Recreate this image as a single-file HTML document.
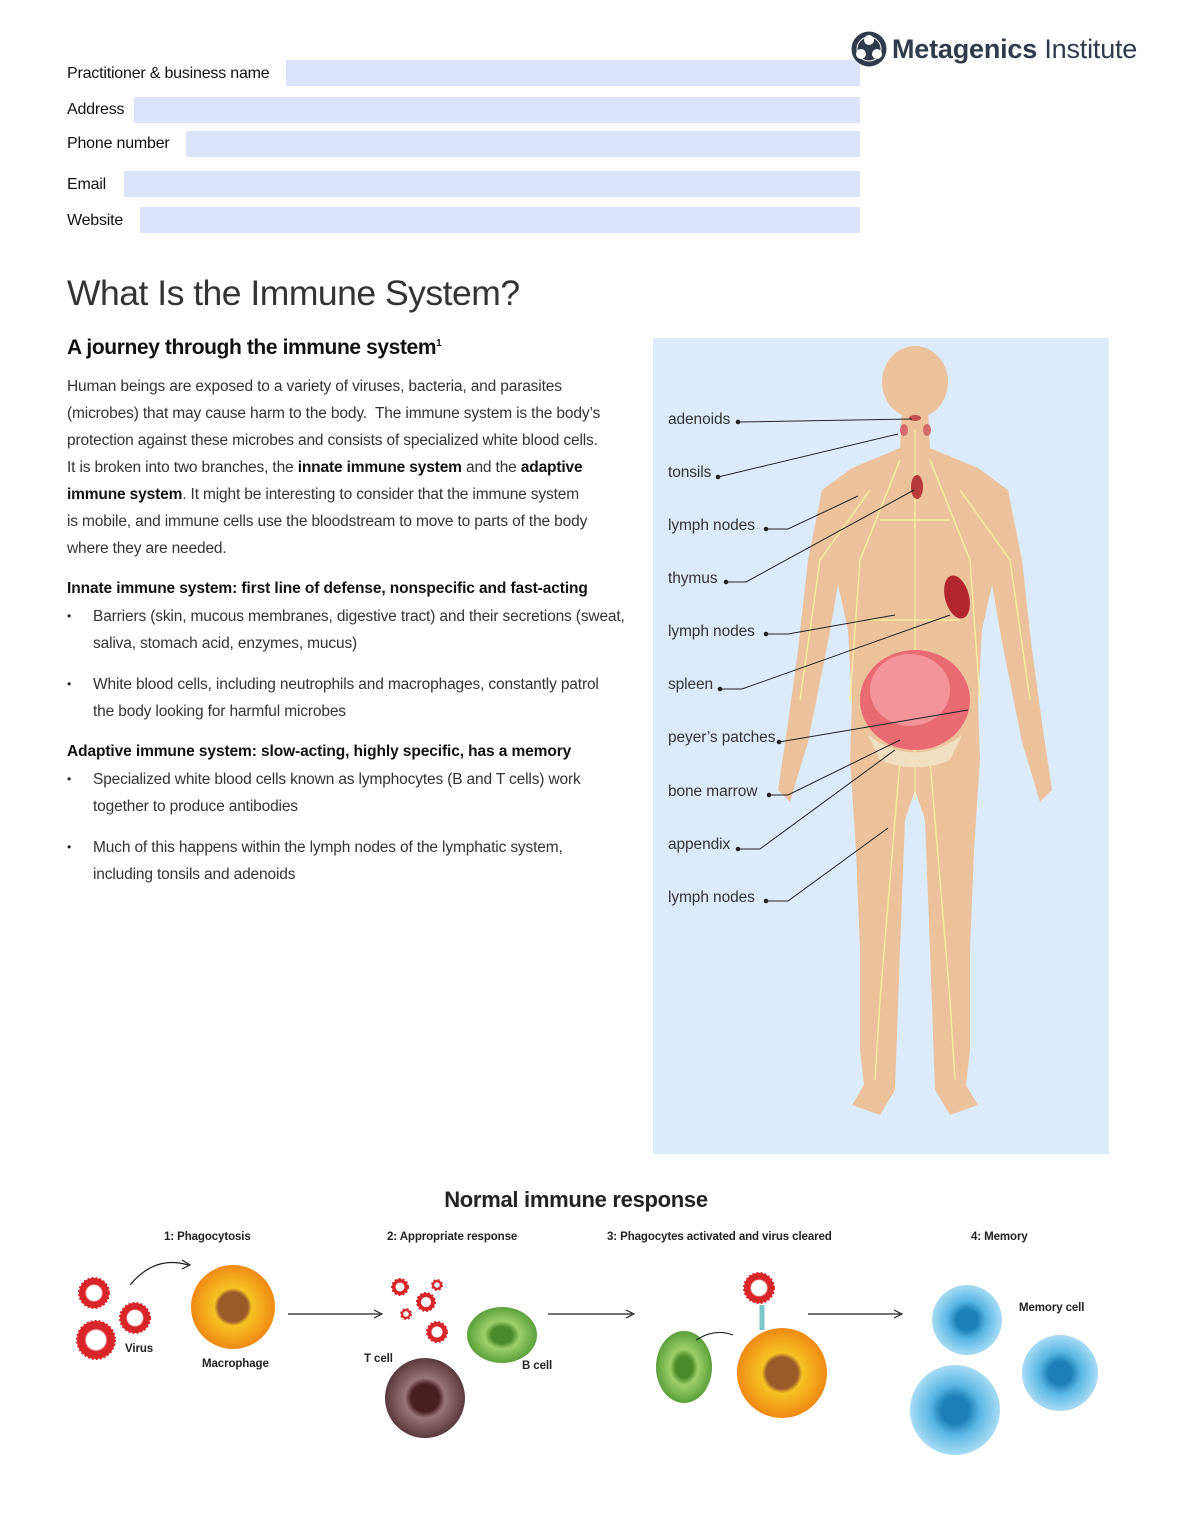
<!DOCTYPE html>
<html><head><meta charset="utf-8"><style>
*{margin:0;padding:0;box-sizing:border-box}
body{width:1178px;height:1522px;background:#fff;font-family:"Liberation Sans",sans-serif;color:#222;position:relative;overflow:hidden}
.a{position:absolute}
.lab{position:absolute;left:67px;font-size:16px;color:#111;letter-spacing:-0.2px}
.fld{position:absolute;background:#dde3fb;height:26px}
.p{position:absolute;left:67px;font-size:15.5px;line-height:27px;color:#333;letter-spacing:-0.15px;white-space:nowrap}
.h{font-weight:bold;color:#111}
.bl{position:absolute;left:93px;font-size:15.5px;line-height:27px;color:#333;letter-spacing:-0.15px;white-space:nowrap}
.dot{position:absolute;left:67px;font-size:12px}
.bl-l{position:absolute;left:668px;font-size:15.5px;color:#333;letter-spacing:-0.1px}
.step{position:absolute;font-size:11.5px;font-weight:bold;color:#222;letter-spacing:-0.1px}
.hd{position:absolute;left:67px;font-size:15.5px;font-weight:bold;color:#111;letter-spacing:-0.1px}
</style></head><body>
<div class="lab" style="top:65px">Practitioner &amp; business name</div><div class="fld" style="left:286px;top:60px;width:574px"></div>
<div class="lab" style="top:101px">Address</div><div class="fld" style="left:134px;top:97px;width:726px"></div>
<div class="lab" style="top:135px">Phone number</div><div class="fld" style="left:186px;top:131px;width:674px"></div>
<div class="lab" style="top:176px">Email</div><div class="fld" style="left:124px;top:171px;width:736px"></div>
<div class="lab" style="top:212px">Website</div><div class="fld" style="left:140px;top:207px;width:720px"></div>

<svg class="a" style="left:850px;top:30px" width="38" height="38" viewBox="0 0 38 38"><circle cx="19" cy="19" r="17.5" fill="#2f3b4a"/><circle cx="19" cy="10" r="5" fill="#fff"/><circle cx="11" cy="24" r="5" fill="#fff"/><circle cx="27" cy="24" r="5" fill="#fff"/><circle cx="19" cy="19" r="12" fill="none" stroke="#fff" stroke-width="1"/></svg>
<div class="a" style="left:892px;top:34px;font-size:27px;color:#2f3b4a;white-space:nowrap;letter-spacing:-0.2px"><b>Metagenics</b> <span style="font-weight:normal">Institute</span></div>

<div class="a" style="left:67px;top:273px;font-size:35.5px;color:#333;letter-spacing:-0.5px">What Is the Immune System?</div>
<div class="a" style="left:67px;top:336px;font-size:21px;font-weight:bold;color:#111;letter-spacing:-0.4px">A journey through the immune system<sup style="font-size:10px">1</sup></div>
<div class="p" style="top:373px">Human beings are exposed to a variety of viruses, bacteria, and parasites<br>(microbes) that may cause harm to the body.&nbsp; The immune system is the body’s<br>protection against these microbes and consists of specialized white blood cells.<br>It is broken into two branches, the <b class="h">innate immune system</b> and the <b class="h">adaptive</b><br><b class="h">immune system</b>. It might be interesting to consider that the immune system<br>is mobile, and immune cells use the bloodstream to move to parts of the body<br>where they are needed.</div>
<div class="hd" style="top:580px">Innate immune system: first line of defense, nonspecific and fast-acting</div>
<div class="dot" style="top:609px">•</div><div class="bl" style="top:603px">Barriers (skin, mucous membranes, digestive tract) and their secretions (sweat,<br>saliva, stomach acid, enzymes, mucus)</div>
<div class="dot" style="top:677px">•</div><div class="bl" style="top:671px">White blood cells, including neutrophils and macrophages, constantly patrol<br>the body looking for harmful microbes</div>
<div class="hd" style="top:743px">Adaptive immune system: slow-acting, highly specific, has a memory</div>
<div class="dot" style="top:772px">•</div><div class="bl" style="top:766px">Specialized white blood cells known as lymphocytes (B and T cells) work<br>together to produce antibodies</div>
<div class="dot" style="top:840px">•</div><div class="bl" style="top:834px">Much of this happens within the lymph nodes of the lymphatic system,<br>including tonsils and adenoids</div>

<div class="a" style="left:653px;top:338px;width:456px;height:816px;background:#dcebfb"></div>
<svg class="a" style="left:653px;top:338px" width="456" height="816" viewBox="653 338 456 816">
<polygon fill="#ebc29b" points="902,408 900,448 852,468 822,490 808,560 798,650 787,730 778,790 790,802 808,742 828,642 838,585 848,630 852,700 850,760 856,850 860,950 860,1050 864,1085 852,1105 880,1115 895,1090 900,950 905,820 915,790 925,820 930,950 935,1090 950,1115 978,1105 966,1085 970,1050 970,950 974,850 980,760 978,700 982,630 992,585 1002,642 1022,742 1040,802 1052,790 1043,730 1032,650 1022,560 1008,490 978,468 930,448 928,408"/>
<ellipse cx="915" cy="382" rx="33" ry="36" fill="#ebc29b"/>
<g stroke="#f6efa0" stroke-width="1.5" fill="none" opacity="0.9">
<path d="M915 430 L915 800 M900 460 L860 560 L850 700 M930 460 L970 560 L980 700 M870 490 L820 560 L800 700 M960 490 L1010 560 L1030 700 M900 760 L880 1000 L875 1080 M930 760 L950 1000 L955 1080 M880 520 L950 520 M870 620 L960 620"/>
</g>
<ellipse cx="915" cy="418" rx="6" ry="3" fill="#c0504d"/>
<ellipse cx="904" cy="430" rx="4" ry="6" fill="#d36b6b"/><ellipse cx="927" cy="430" rx="4" ry="6" fill="#d36b6b"/>
<ellipse cx="917" cy="487" rx="6" ry="12" fill="#b53a3a"/>
<ellipse cx="957" cy="597" rx="12" ry="22" fill="#b3262c" transform="rotate(-15 957 597)"/>
<path d="M915 700 m-55 0 a55 50 0 1 0 110 0 a55 50 0 1 0 -110 0" fill="#e86b72"/>
<ellipse cx="910" cy="690" rx="40" ry="36" fill="#f2949a"/>
<path d="M868 735 Q915 770 962 735 L950 760 Q915 775 880 760Z" fill="#f0e0c0"/>
<g stroke="#222" stroke-width="1" fill="#222">
<line x1="738" y1="422" x2="912" y2="419"/><circle cx="738" cy="422" r="1.8"/>
<line x1="718" y1="477" x2="898" y2="434"/><circle cx="718" cy="477" r="1.8"/>
<polyline fill="none" points="766,529 788,529 858,496"/><circle cx="766" cy="529" r="1.8"/>
<polyline fill="none" points="726,582 746,582 914,490"/><circle cx="726" cy="582" r="1.8"/>
<polyline fill="none" points="766,634 788,634 895,615"/><circle cx="766" cy="634" r="1.8"/>
<polyline fill="none" points="720,689 742,689 950,615"/><circle cx="720" cy="689" r="1.8"/>
<line x1="779" y1="742" x2="968" y2="710"/><circle cx="779" cy="742" r="1.8"/>
<polyline fill="none" points="769,795 788,795 900,740"/><circle cx="769" cy="795" r="1.8"/>
<polyline fill="none" points="738,849 760,849 895,750"/><circle cx="738" cy="849" r="1.8"/>
<polyline fill="none" points="766,901 788,901 888,828"/><circle cx="766" cy="901" r="1.8"/>
</g></svg>
<div class="bl-l" style="top:411px">adenoids</div>
<div class="bl-l" style="top:464px">tonsils</div>
<div class="bl-l" style="top:517px">lymph nodes</div>
<div class="bl-l" style="top:570px">thymus</div>
<div class="bl-l" style="top:623px">lymph nodes</div>
<div class="bl-l" style="top:676px">spleen</div>
<div class="bl-l" style="top:729px">peyer’s patches</div>
<div class="bl-l" style="top:783px">bone marrow</div>
<div class="bl-l" style="top:836px">appendix</div>
<div class="bl-l" style="top:889px">lymph nodes</div>

<div class="a" style="left:0;width:1152px;text-align:center;top:1187px;font-size:22px;font-weight:bold;color:#222;letter-spacing:-0.3px">Normal immune response</div>
<div class="step" style="left:164px;top:1231px">1: Phagocytosis</div>
<div class="step" style="left:387px;top:1231px">2: Appropriate response</div>
<div class="step" style="left:607px;top:1231px">3: Phagocytes activated and virus cleared</div>
<div class="step" style="left:971px;top:1231px">4: Memory</div>
<svg class="a" style="left:0;top:1250px" width="1178" height="230" viewBox="0 1250 1178 230">
<defs>
<radialGradient id="y"><stop offset="0.35" stop-color="#9a5a2a"/><stop offset="0.45" stop-color="#f6c224"/><stop offset="1" stop-color="#f08a12"/></radialGradient>
<radialGradient id="g"><stop offset="0.3" stop-color="#4a8a28"/><stop offset="0.5" stop-color="#9bd067"/><stop offset="1" stop-color="#5ca03a"/></radialGradient>
<radialGradient id="b"><stop offset="0.3" stop-color="#1c7fb8"/><stop offset="0.55" stop-color="#58b6e4"/><stop offset="1" stop-color="#a8dcf4"/></radialGradient>
<radialGradient id="m"><stop offset="0.35" stop-color="#4a1f24"/><stop offset="0.5" stop-color="#9a7478"/><stop offset="1" stop-color="#5a3a3e"/></radialGradient>
<radialGradient id="v"><stop offset="0.5" stop-color="#fff"/><stop offset="0.6" stop-color="#d9252a"/></radialGradient>
</defs>
<g fill="url(#v)" stroke="#d9252a" stroke-width="2" stroke-dasharray="2 2">
<circle cx="94" cy="1293" r="15"/><circle cx="135" cy="1318" r="15"/><circle cx="96" cy="1340" r="19"/>
<circle cx="400" cy="1287" r="8"/><circle cx="437" cy="1285" r="5"/><circle cx="426" cy="1302" r="9"/><circle cx="406" cy="1314" r="5"/><circle cx="437" cy="1332" r="10"/>
<circle cx="759" cy="1288" r="15"/>
</g>
<circle cx="233" cy="1307" r="42" fill="url(#y)"/>
<circle cx="782" cy="1373" r="45" fill="url(#y)"/>
<ellipse cx="502" cy="1335" rx="35" ry="28" fill="url(#g)"/>
<ellipse cx="684" cy="1367" rx="28" ry="36" fill="url(#g)"/>
<circle cx="425" cy="1398" r="40" fill="url(#m)"/>
<circle cx="967" cy="1320" r="35" fill="url(#b)"/>
<circle cx="1060" cy="1373" r="38" fill="url(#b)"/>
<circle cx="955" cy="1410" r="45" fill="url(#b)"/>
<path d="M762 1305 L762 1330" stroke="#7bc6c8" stroke-width="5"/>
<g stroke="#222" stroke-width="1.2" fill="none">
<path d="M130 1285 Q155 1255 188 1265"/><path d="M182 1260 L190 1265 L182 1269"/>
<path d="M288 1314 H380"/><path d="M374 1310 L382 1314 L374 1318"/>
<path d="M548 1314 H632"/><path d="M626 1310 L634 1314 L626 1318"/>
<path d="M808 1314 H900"/><path d="M894 1310 L902 1314 L894 1318"/>
<path d="M696 1340 Q715 1328 733 1335"/>
</g>
</svg>
<div class="step" style="left:125px;top:1343px">Virus</div>
<div class="step" style="left:202px;top:1358px">Macrophage</div>
<div class="step" style="left:364px;top:1353px">T cell</div>
<div class="step" style="left:522px;top:1360px">B cell</div>
<div class="step" style="left:1019px;top:1302px">Memory cell</div>
</body></html>
